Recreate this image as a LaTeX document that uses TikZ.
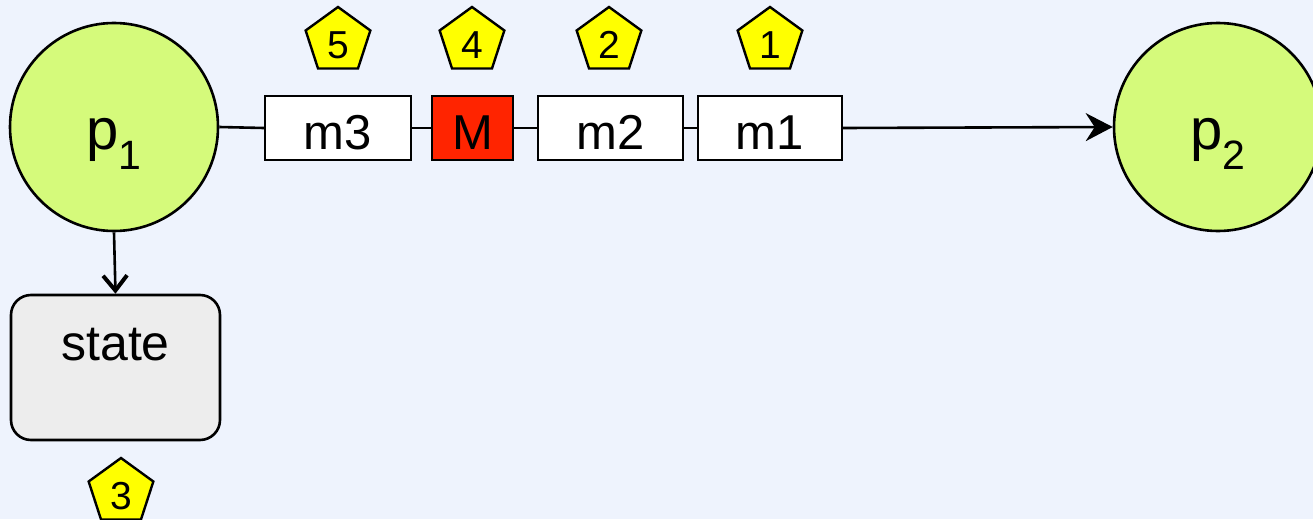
\documentclass[tikz,border=0pt]{standalone}
\usepackage{fontspec}
\setmainfont{Liberation Sans}
\usetikzlibrary{shapes.geometric,arrows.meta}
\definecolor{bgc}{HTML}{EEF3FD}
\definecolor{placegreen}{HTML}{D5FA7B}
\definecolor{tokred}{HTML}{FF2400}
\definecolor{stategray}{HTML}{EDEDED}
\definecolor{penyellow}{HTML}{FFFF00}
\tikzset{
  place/.style={circle,draw,line width=2.6pt,fill=placegreen,minimum size=208pt,inner sep=0pt,
    font=\fontsize{58}{58}\selectfont,text height=44pt,text depth=0pt},
  msgbox/.style={rectangle,draw,line width=2.4pt,fill=white,minimum height=64pt,inner sep=0pt,
    font=\fontsize{49}{49}\selectfont,text height=42pt,text depth=0pt},
  statebox/.style={rectangle,rounded corners=20pt,draw,line width=2.6pt,fill=stategray,
    minimum width=209pt,minimum height=145pt,inner sep=0pt,
    font=\fontsize{50}{50}\selectfont,text height=0pt,text depth=15pt},
  penta/.style={regular polygon,regular polygon sides=5,draw,line width=2.4pt,fill=penyellow,
    minimum size=68pt,inner sep=0pt,font=\fontsize{39}{39}\selectfont,text height=35pt,text depth=0pt},
  conn/.style={line width=2.6pt},
}
\begin{document}
\begin{tikzpicture}[x=1pt,y=-1pt]
\fill[bgc] (0,0) rectangle (1313,519);
\useasboundingbox (0,0) rectangle (1313,519);
\node[place] (p1) at (114,127) {p\raisebox{-20pt}{\fontsize{41}{41}\selectfont 1}};
\node[place] (p2) at (1218,127) {p\raisebox{-20pt}{\fontsize{41}{41}\selectfont 2}};
\node[msgbox,minimum width=146pt] (m3) at (338,128) {m3};
\node[msgbox,minimum width=81pt,fill=tokred] (M) at (472.5,128) {M};
\node[msgbox,minimum width=145pt] (m2) at (610.5,128) {m2};
\node[msgbox,minimum width=144pt] (m1) at (770,128) {m1};
\node[statebox] (state) at (115.5,367.5) {state};
\node[penta] (k5) at (338,41) {5};
\node[penta] (k4) at (472,41) {4};
\node[penta] (k2) at (609,41) {2};
\node[penta] (k1) at (770,41) {1};
\node[penta] (k3) at (121,492) {3};
\draw[conn] (p1.east) -- (m3.west);
\draw[conn] (m3.east) -- (M.west);
\draw[conn] (M.east) -- (m2.west);
\draw[conn] (m2.east) -- (m1.west);
\draw[conn,-{Stealth[length=27pt,width=28pt,inset=9pt]}] (m1.east) -- (p2.west);
\draw[conn,-{Straight Barb[length=15pt,width=24pt,line width=4pt]}] (p1.south) -- (state.north);
\end{tikzpicture}
\end{document}
